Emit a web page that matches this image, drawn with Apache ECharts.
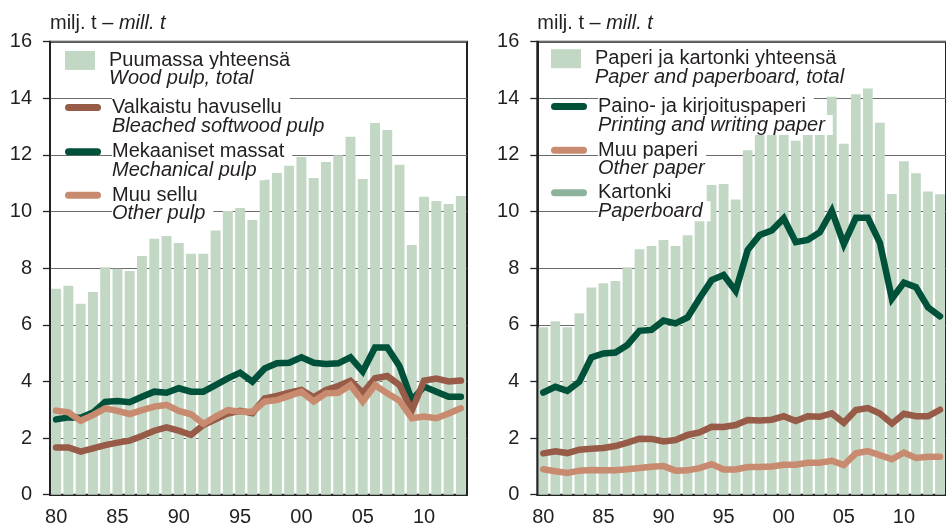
<!DOCTYPE html>
<html>
<head>
<meta charset="utf-8">
<script src="https://cdn.jsdelivr.net/npm/echarts@6/dist/echarts.min.js"></script>
<style>
  html, body { margin: 0; padding: 0; background: #fff; }
  #chart { width: 946px; height: 532px; }
</style>
</head>
<body>
<div id="chart"></div>
<script>
// Years 1980–2013, shown as two-digit labels
const years = ['80','81','82','83','84','85','86','87','88','89',
               '90','91','92','93','94','95','96','97','98','99',
               '00','01','02','03','04','05','06','07','08','09',
               '10','11','12','13'];
const yearTicks = ['80','85','90','95','00','05','10'];
const valueTicks = [0, 2, 4, 6, 8, 10, 12, 14, 16];

// Pulp production, million tonnes
const woodPulpTotal = [7.27,7.38,6.74,7.16,8.03,7.98,7.90,8.43,9.04,9.14,
                       8.89,8.51,8.51,9.33,10.02,10.13,9.70,11.12,11.36,11.62,
                       11.93,11.19,11.75,11.99,12.64,11.15,13.13,12.88,11.65,8.82,
                       10.52,10.37,10.27,10.55];
const bleachedSoftwood = [1.67,1.67,1.52,1.64,1.75,1.84,1.91,2.07,2.26,2.38,
                          2.26,2.11,2.46,2.66,2.87,2.96,2.88,3.40,3.49,3.60,
                          3.70,3.44,3.70,3.84,4.02,3.60,4.11,4.19,3.87,2.97,
                          4.03,4.10,4.00,4.03];
const mechanicalPulp = [2.66,2.73,2.72,2.90,3.28,3.31,3.27,3.46,3.64,3.60,
                        3.76,3.64,3.64,3.87,4.11,4.31,3.99,4.46,4.64,4.66,
                        4.85,4.66,4.62,4.64,4.85,4.35,5.20,5.20,4.54,3.34,
                        3.82,3.64,3.46,3.46];
const otherPulp = [2.97,2.91,2.61,2.81,3.05,2.96,2.85,2.99,3.11,3.17,
                   2.96,2.84,2.50,2.76,2.99,2.93,2.93,3.29,3.34,3.49,
                   3.64,3.29,3.58,3.60,3.87,3.29,3.87,3.58,3.32,2.70,
                   2.76,2.70,2.87,3.05];

// Paper and paperboard production, million tonnes
const paperTotal = [5.91,6.13,5.91,6.41,7.32,7.47,7.55,8.03,8.67,8.78,
                    9.00,8.78,9.16,10.03,10.94,10.97,10.43,12.17,12.73,12.95,
                    13.51,12.50,12.79,13.09,14.06,12.40,14.14,14.35,13.14,10.62,
                    11.78,11.35,10.71,10.61];
const printingWriting = [3.61,3.81,3.67,3.99,4.85,4.99,5.02,5.29,5.79,5.82,
                         6.15,6.05,6.26,6.94,7.58,7.76,7.20,8.64,9.17,9.33,
                         9.76,8.92,9.00,9.27,10.03,8.85,9.78,9.78,8.90,6.92,
                         7.49,7.33,6.62,6.30];
const paperboard = [1.46,1.53,1.47,1.59,1.62,1.65,1.72,1.84,1.98,1.97,
                    1.88,1.93,2.11,2.20,2.40,2.39,2.46,2.64,2.62,2.65,
                    2.77,2.60,2.77,2.75,2.87,2.54,2.99,3.06,2.87,2.51,
                    2.86,2.77,2.77,3.00];
const otherPaper = [0.90,0.83,0.77,0.85,0.87,0.86,0.86,0.90,0.94,0.99,
                    1.01,0.85,0.86,0.94,1.08,0.89,0.89,0.98,0.98,1.00,
                    1.06,1.06,1.13,1.13,1.20,1.05,1.46,1.54,1.40,1.25,
                    1.49,1.30,1.34,1.34];

// Bilingual legend texts: Finnish name -> English
const englishNames = {
  'Puumassa yhteensä': 'Wood pulp, total',
  'Valkaistu havusellu': 'Bleached softwood pulp',
  'Mekaaniset massat': 'Mechanical pulp',
  'Muu sellu': 'Other pulp',
  'Paperi ja kartonki yhteensä': 'Paper and paperboard, total',
  'Paino- ja kirjoituspaperi': 'Printing and writing paper',
  'Muu paperi': 'Other paper',
  'Kartonki': 'Paperboard'
};

const FONT = '"Liberation Sans", Arial, Helvetica, sans-serif';
const TEXT = '#231f20';
const BAR = '#c2d8c5';
const GREEN = '#00513a';
const BROWN = '#975b47';
const SALMON = '#c98b70';
const BOARD_KEY = '#8db39c';

const PLOT_TOP = 41.7, PLOT_H = 453, PLOT_W = 417;
const panels = [{ left: 50 }, { left: 537.3 }];

const barIcon = 'path://M0,0 L30,0 L30,19 L0,19 Z';
const lineIcon = 'path://M3.5,0 L32.5,0 A3.5,3.5 0 0 1 32.5,7 L3.5,7 A3.5,3.5 0 0 1 3.5,0 Z';

function legendItem(name, icon, left, iconCenter, color) {
  const item = { name: name, icon: icon };
  if (color) item.itemStyle = { color: color, borderWidth: 0 };
  return {
    data: [item],
    orient: 'vertical',
    left: left,
    top: iconCenter - 27.75,
    padding: 0,
    itemGap: 0,
    itemWidth: 36,
    itemHeight: 19,
    symbolKeepAspect: true,
    selectedMode: false,
    itemStyle: { borderWidth: 0 },
    formatter: n => '{a|' + n + '}\n{b|' + englishNames[n] + '}',
    textStyle: {
      fontFamily: FONT, fontSize: 20, color: TEXT,
      lineHeight: 18.5,
      padding: [18.5, 0, 0, 6],
      rich: {
        a: { fontFamily: FONT, fontSize: 20, lineHeight: 18.5, color: TEXT,
             backgroundColor: '#fff', padding: [0, 8, 0, 0] },
        b: { fontFamily: FONT, fontSize: 20, lineHeight: 18.5, color: TEXT, fontStyle: 'italic',
             backgroundColor: '#fff', padding: [0, 8, 0, 0] }
      }
    }
  };
}

function xAxis(gridIndex) {
  return {
    type: 'category', gridIndex: gridIndex, data: years,
    axisLine: { lineStyle: { color: '#222', width: 2 } },
    axisTick: { alignWithLabel: true, interval: 0, length: 6, lineStyle: { color: '#222', width: 1.3 } },
    axisLabel: {
      interval: (i, v) => yearTicks.includes(v),
      margin: 13, fontFamily: FONT, fontSize: 20, color: TEXT
    },
    splitLine: { show: false }
  };
}

function yAxis(gridIndex) {
  return {
    type: 'value', gridIndex: gridIndex,
    min: valueTicks[0], max: valueTicks[valueTicks.length - 1], interval: 2,
    axisLine: { show: true, lineStyle: { color: '#222', width: 2 } },
    axisTick: { show: true, length: 7, lineStyle: { color: '#222', width: 1.3 } },
    axisLabel: { margin: 18, fontFamily: FONT, fontSize: 20, color: TEXT },
    splitLine: { show: true, lineStyle: { color: '#6b6b6b', width: 1 } }
  };
}

function barSeries(name, data, idx) {
  return {
    name: name, type: 'bar', data: data, xAxisIndex: idx, yAxisIndex: idx,
    barCategoryGap: '19%', itemStyle: { color: BAR }, z: 2
  };
}

function lineSeries(name, data, idx, color) {
  return {
    name: name, type: 'line', data: data, xAxisIndex: idx, yAxisIndex: idx,
    showSymbol: false, symbol: 'none',
    itemStyle: { color: color },
    lineStyle: { color: color, width: 6.5, cap: 'round', join: 'miter' },
    z: 3
  };
}

const titleRich = {
  a: { fontFamily: FONT, fontSize: 20, color: TEXT, fontWeight: 'normal' },
  b: { fontFamily: FONT, fontSize: 20, color: TEXT, fontWeight: 'normal', fontStyle: 'italic' }
};

const option = {
  animation: false,
  backgroundColor: '#fff',
  title: panels.map(p => ({
    text: '{a|milj. t – }{b|mill. t}',
    left: p.left, top: 13, padding: 0,
    textStyle: { rich: titleRich, fontSize: 20, fontWeight: 'normal', fontFamily: FONT }
  })),
  grid: panels.map(p => ({
    left: p.left, top: PLOT_TOP, width: PLOT_W, height: PLOT_H,
    show: true, borderColor: '#222', borderWidth: 2, backgroundColor: 'transparent'
  })),
  xAxis: [xAxis(0), xAxis(1)],
  yAxis: [yAxis(0), yAxis(1)],
  legend: [
    legendItem('Puumassa yhteensä', barIcon, 65, 60.4),
    legendItem('Valkaistu havusellu', lineIcon, 65, 107.5),
    legendItem('Mekaaniset massat', lineIcon, 65, 151.7),
    legendItem('Muu sellu', lineIcon, 65, 195.2),
    legendItem('Paperi ja kartonki yhteensä', barIcon, 551, 58.7),
    legendItem('Paino- ja kirjoituspaperi', lineIcon, 551, 106.5),
    legendItem('Muu paperi', lineIcon, 551, 150.3),
    legendItem('Kartonki', lineIcon, 551, 192.8, BOARD_KEY)
  ],
  series: [
    barSeries('Puumassa yhteensä', woodPulpTotal, 0),
    lineSeries('Mekaaniset massat', mechanicalPulp, 0, GREEN),
    lineSeries('Valkaistu havusellu', bleachedSoftwood, 0, BROWN),
    lineSeries('Muu sellu', otherPulp, 0, SALMON),
    barSeries('Paperi ja kartonki yhteensä', paperTotal, 1),
    lineSeries('Paino- ja kirjoituspaperi', printingWriting, 1, GREEN),
    lineSeries('Kartonki', paperboard, 1, BROWN),
    lineSeries('Muu paperi', otherPaper, 1, SALMON)
  ]
};

const chart = echarts.init(document.getElementById('chart'), null, { renderer: 'canvas' });
chart.setOption(option);
</script>
</body>
</html>
